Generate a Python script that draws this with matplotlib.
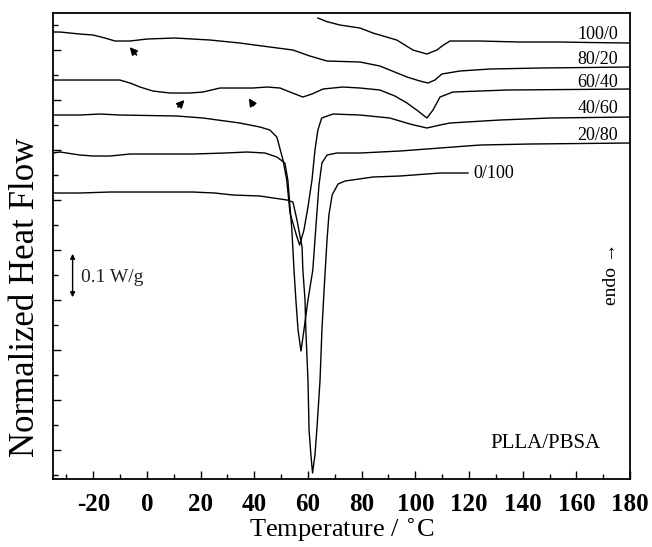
import numpy as np
import matplotlib
matplotlib.use('Agg')
import matplotlib.pyplot as plt
from matplotlib.ticker import MultipleLocator, NullFormatter

plt.rcParams['font.family'] = ['Liberation Serif', 'DejaVu Serif']
plt.rcParams['axes.unicode_minus'] = False

# DSC heating curves, PLLA/PBSA blends (temperature in C, heat flow in W/g, stacked)
t_100_0 = [63.7, 66.9, 71.9, 79.4, 84.2, 93.1, 99.1, 104.3, 108.0, 110.5, 112.9, 124.1, 139.0, 153.9, 165.0, 180.0]
v_100_0 = [0.864, 0.857, 0.850, 0.844, 0.834, 0.820, 0.800, 0.792, 0.800, 0.810, 0.818, 0.818, 0.816, 0.816, 0.815, 0.814]

t_80_20 = [-35.0, -32.4, -25.0, -20.1, -15.6, -11.9, -6.3, 0.0, 10.4, 23.5, 34.6, 45.8, 54.4, 60.7, 67.1,
           79.4, 86.8, 96.9, 101.7, 104.7, 107.3, 109.9, 116.6, 127.8, 146.4, 180.0]
v_80_20 = [0.836, 0.836, 0.832, 0.830, 0.824, 0.818, 0.818, 0.822, 0.824, 0.820, 0.814, 0.806, 0.800, 0.788, 0.778,
           0.776, 0.768, 0.746, 0.738, 0.734, 0.740, 0.752, 0.758, 0.762, 0.764, 0.766]

t_60_40 = [-35.0, -25.0, -10.1, -6.3, -2.6, 2.2, 8.6, 16.0, 20.9, 27.2, 34.6, 39.5, 44.7, 49.6, 53.3, 58.1,
           61.5, 65.6, 73.0, 79.4, 86.8, 92.4, 96.9, 101.0, 104.3, 106.6, 109.2, 114.0, 134.1, 180.0]
v_60_40 = [0.740, 0.740, 0.740, 0.734, 0.726, 0.718, 0.714, 0.714, 0.716, 0.724, 0.724, 0.724, 0.726, 0.724, 0.716, 0.706,
           0.712, 0.722, 0.726, 0.724, 0.720, 0.708, 0.694, 0.678, 0.664, 0.680, 0.706, 0.716, 0.720, 0.722]

t_40_60 = [-35.0, -25.0, -17.5, -10.1, 11.2, 20.9, 34.6, 42.1, 45.8, 48.4, 50.7, 52.1, 53.3, 55.9, 56.9,
           58.5, 60.0, 61.5, 62.6, 63.7, 65.1, 69.3, 79.4, 90.5, 98.0, 104.3, 109.2, 112.9, 131.5, 150.1, 180.0]
v_40_60 = [0.670, 0.670, 0.672, 0.670, 0.668, 0.664, 0.654, 0.646, 0.640, 0.626, 0.580, 0.540, 0.474, 0.426, 0.410,
           0.440, 0.486, 0.540, 0.600, 0.640, 0.664, 0.672, 0.670, 0.664, 0.652, 0.644, 0.650, 0.654, 0.660, 0.664, 0.666]

t_20_80 = [-35.0, -32.4, -25.0, -20.1, -13.8, -6.3, 4.8, 17.1, 29.1, 37.3, 44.0, 48.4, 51.4, 52.5, 54.0, 54.8,
           55.5, 56.3, 57.4, 58.5, 60.0, 61.8, 63.0, 64.1, 65.2, 67.1, 70.8, 79.4, 94.3, 109.2, 124.1, 142.8, 180.0]
v_20_80 = [0.594, 0.596, 0.590, 0.588, 0.588, 0.592, 0.592, 0.592, 0.594, 0.596, 0.594, 0.586, 0.574, 0.540, 0.440, 0.360,
           0.300, 0.240, 0.198, 0.240, 0.300, 0.360, 0.450, 0.530, 0.574, 0.590, 0.594, 0.594, 0.598, 0.604, 0.610, 0.612, 0.614]

t_0_100 = [-35.0, -25.0, -13.8, 0.0, 17.1, 25.3, 32.0, 42.1, 52.2, 54.4, 55.9, 57.8, 58.1, 58.9, 59.2, 60.0,
           60.4, 61.1, 61.7, 62.6, 63.3, 64.5, 65.2, 66.0, 67.1, 67.8, 69.0, 71.2, 73.8, 84.2, 94.3, 109.2, 119.6]
v_0_100 = [0.514, 0.514, 0.516, 0.516, 0.516, 0.514, 0.510, 0.508, 0.500, 0.496, 0.460, 0.406, 0.360, 0.300, 0.240, 0.140,
           0.040, -0.010, -0.046, -0.010, 0.040, 0.140, 0.240, 0.320, 0.420, 0.470, 0.510, 0.532, 0.538, 0.546, 0.548, 0.554, 0.554]

curves = [(t_100_0, v_100_0), (t_80_20, v_80_20), (t_60_40, v_60_40),
          (t_40_60, v_40_60), (t_20_80, v_20_80), (t_0_100, v_0_100)]
names = ['100/0', '80/20', '60/40', '40/60', '20/80', '0/100']
name_y = [0.832, 0.782, 0.736, 0.684, 0.630, 0.554]


def main():
    fig = plt.figure(figsize=(6.52, 5.47), dpi=100)
    ax = fig.add_axes([0.0813, 0.1243, 0.885, 0.8519])

    for t, v in curves:
        ax.plot(t, v, c='black', linewidth=1.0)

    for i, nm in enumerate(names):
        if nm == '0/100':
            ax.text(121.5, name_y[i], nm, ha='left', va='center', fontsize=13)
        else:
            ax.text(175.5, name_y[i], nm, ha='right', va='center', fontsize=13)

    # arrows marking the weak transitions
    ap = dict(arrowstyle='-|>', mutation_scale=11, lw=1.2, color='black')
    ax.annotate('', xy=(-7.1, 0.810), xytext=(-3.2, 0.786), arrowprops=ap)
    ax.annotate('', xy=(14.7, 0.704), xytext=(10.8, 0.682), arrowprops=ap)
    ax.annotate('', xy=(37.4, 0.708), xytext=(40.3, 0.684), arrowprops=ap)

    # scale bar
    ax.annotate('', xy=(-27.7, 0.398), xytext=(-27.7, 0.300),
                arrowprops=dict(arrowstyle='<|-|>', mutation_scale=7, lw=1.0, color='black'))
    ax.text(-24.5, 0.345, '0.1 W/g', ha='left', va='center', fontsize=14, color='#222222')
    ax.text(173.1, 0.352, 'endo \u2192', rotation=90, ha='center', va='center', fontsize=14)
    ax.text(148.3, 0.014, 'PLLA/PBSA', ha='center', va='center', fontsize=15)

    ax.set_xlim(-35, 180)
    ax.set_ylim(-0.058, 0.874)
    ax.xaxis.set_major_locator(MultipleLocator(20))
    ax.xaxis.set_minor_locator(MultipleLocator(10))
    ax.yaxis.set_major_locator(MultipleLocator(0.1))
    ax.yaxis.set_minor_locator(MultipleLocator(0.05))
    ax.yaxis.set_major_formatter(NullFormatter())
    ax.tick_params(which='both', direction='in', top=False, right=False, width=1.0)
    ax.tick_params(which='major', length=6)
    ax.tick_params(which='minor', length=3.5)
    ax.tick_params(axis='x', which='major', labelsize=18, pad=10)
    for lb in ax.get_xticklabels():
        lb.set_fontweight('bold')
    for s in ax.spines.values():
        s.set_linewidth(1.3)

    ax.set_xlabel('Temperature / $^{\\circ}$C', fontsize=19, labelpad=0)
    ax.set_ylabel('Normalized Heat Flow', fontsize=25, va='center')
    ax.yaxis.set_label_coords(-0.048, 0.39)

    plt.savefig('out.png', dpi=100)

if __name__ == '__main__':
    main()
